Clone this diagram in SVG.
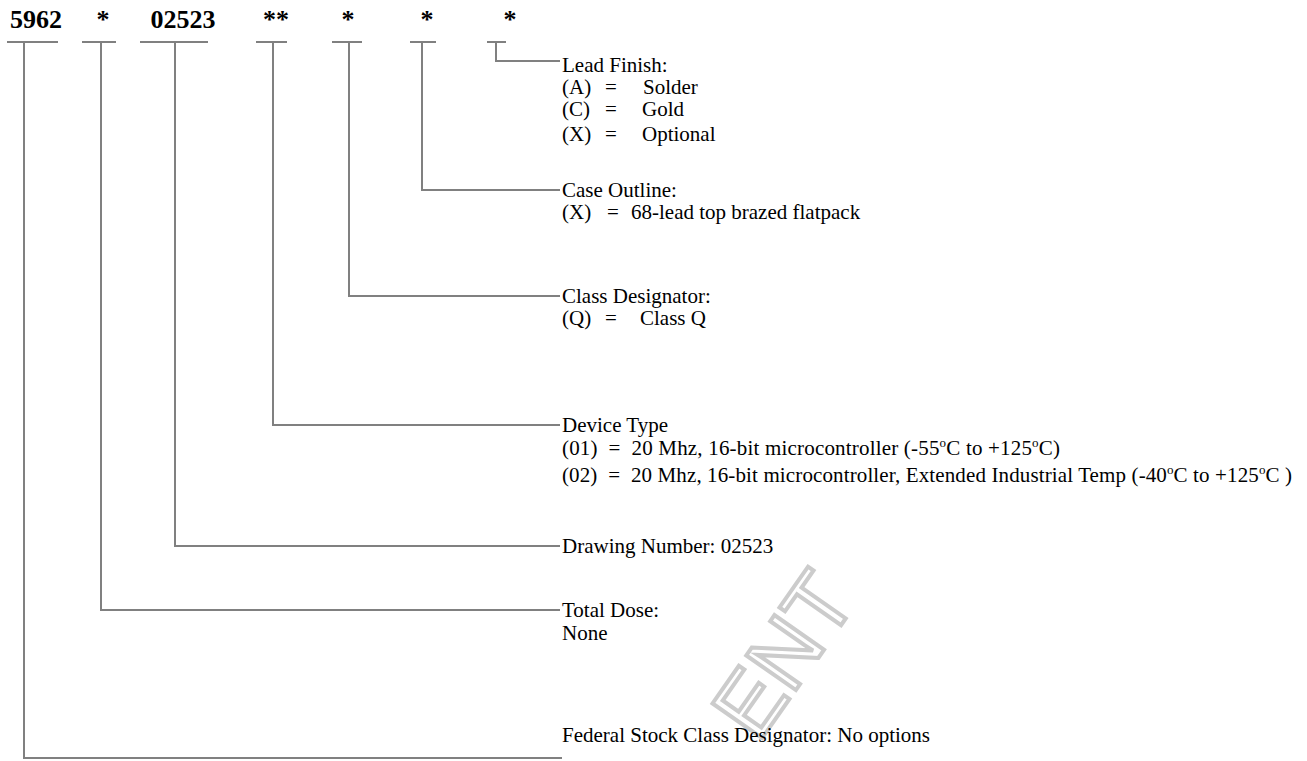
<svg xmlns="http://www.w3.org/2000/svg" width="1307" height="761" viewBox="0 0 1307 761">
<style>
.hd{font-family:"Liberation Serif","Times New Roman",serif;font-weight:bold;font-size:26px;fill:#000}
.t{font-family:"Liberation Serif","Times New Roman",serif;font-size:21px;fill:#000;white-space:pre}
.sup{font-size:13px}
.ln{stroke:#808080;stroke-width:2;fill:none}
.wm{font-family:"Liberation Sans",Arial,sans-serif;font-size:88px;fill:none;stroke:#cccccc;stroke-width:4}
</style>
<rect width="1307" height="761" fill="#fff"/>
<g id="watermark">
<text class="wm" transform="translate(758,744) rotate(-55)">ENT</text>
</g>
<g id="header">
<text class="hd" x="10" y="28">5962</text>
<text class="hd" x="103" y="28" text-anchor="middle">*</text>
<text class="hd" x="183" y="28" text-anchor="middle">02523</text>
<text class="hd" x="276" y="28" text-anchor="middle">**</text>
<text class="hd" x="348" y="28" text-anchor="middle">*</text>
<text class="hd" x="427" y="28" text-anchor="middle">*</text>
<text class="hd" x="510" y="28" text-anchor="middle">*</text>
</g>
<g id="connectors">
<path class="ln" d="M7 42H58M24 42V758H562"/>
<path class="ln" d="M82 42H116M101 42V610H560"/>
<path class="ln" d="M140 42H208M175 42V546H560"/>
<path class="ln" d="M256 42H287M273 42V425H560"/>
<path class="ln" d="M332 42H362M349 42V296H560"/>
<path class="ln" d="M410 42H436M422 42V190H560"/>
<path class="ln" d="M487 42H506M496 42V61H560"/>
</g>
<g id="lead-finish">
<text class="t" x="562" y="72">Lead Finish:</text>
<text class="t" y="94"><tspan x="562">(A)</tspan><tspan x="605">=</tspan><tspan x="643">Solder</tspan></text>
<text class="t" y="116"><tspan x="562">(C)</tspan><tspan x="605">=</tspan><tspan x="642">Gold</tspan></text>
<text class="t" y="141"><tspan x="562">(X)</tspan><tspan x="605">=</tspan><tspan x="642">Optional</tspan></text>
</g>
<g id="case-outline">
<text class="t" x="562" y="197">Case Outline:</text>
<text class="t" y="219"><tspan x="562">(X)</tspan><tspan x="607">=</tspan><tspan x="631">68-lead top brazed flatpack</tspan></text>
</g>
<g id="class-designator">
<text class="t" x="562" y="303">Class Designator:</text>
<text class="t" y="325"><tspan x="562">(Q)</tspan><tspan x="605">=</tspan><tspan x="640">Class Q</tspan></text>
</g>
<g id="device-type">
<text class="t" x="562" y="432">Device Type</text>
<text class="t" x="562" y="455" textLength="498" lengthAdjust="spacing">(01)  =  20 Mhz, 16-bit microcontroller (-55<tspan class="sup" dy="-8">o</tspan><tspan dy="8">C to +125</tspan><tspan class="sup" dy="-8">o</tspan><tspan dy="8">C)</tspan></text>
<text class="t" x="562" y="482" textLength="730" lengthAdjust="spacing">(02)  =  20 Mhz, 16-bit microcontroller, Extended Industrial Temp (-40<tspan class="sup" dy="-8">o</tspan><tspan dy="8">C to +125</tspan><tspan class="sup" dy="-8">o</tspan><tspan dy="8">C )</tspan></text>
</g>
<g id="drawing-number">
<text class="t" x="562" y="553">Drawing Number: 02523</text>
</g>
<g id="total-dose">
<text class="t" x="562" y="617">Total Dose:</text>
<text class="t" x="562" y="640">None</text>
</g>
<g id="federal-stock">
<text class="t" x="562" y="742">Federal Stock Class Designator: No options</text>
</g>
</svg>
